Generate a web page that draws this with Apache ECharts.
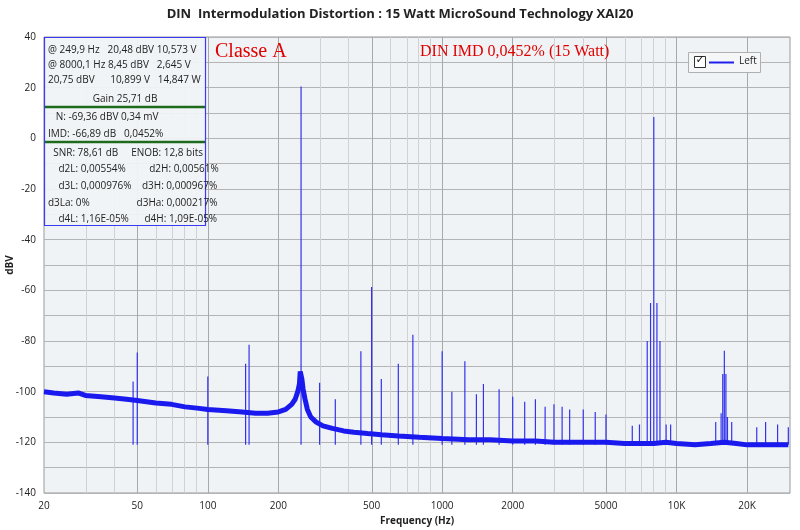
<!DOCTYPE html>
<html><head><meta charset="utf-8">
<script src="https://cdn.jsdelivr.net/npm/echarts@6/dist/echarts.min.js"></script>
<style>html,body{margin:0;padding:0;background:#fff}#c{width:800px;height:530px}</style>
</head><body><div id="c"></div>
<script>
// noise floor readings [Hz, dBV]
const floorF = [20,22,25,28,30,35,40,45,50,60,70,80,90,100,120,140,160,180,200,215,228,236,242,246,248,252,255,260,266,275,290,310,340,380,420,480,550,650,800,1000,1300,1600,2000,2500,3000,4000,5000,6000,7000,8000,9000,10000,12000,14000,16000,18000,20000,23000,26000,30000];
const floorV = [-100,-100.5,-101,-100.5,-101.5,-102,-102.5,-103,-103.5,-104.5,-105,-106,-106.5,-107,-107.5,-108,-108.5,-108.5,-108,-107,-105,-103,-100,-97,-92,-95,-99,-103,-107,-110,-112,-113.5,-114.5,-115.5,-116,-116.5,-117,-117.5,-118,-118.5,-119,-119,-119.5,-119.5,-120,-120,-120,-120.5,-120.5,-120.5,-120,-120.5,-121,-120.5,-120,-120.5,-121,-121,-121,-121];
// spectral lines [Hz, peak dBV]
const spikeF = [48,50,100,145,150,250,300,350,450,500,550,650,750,1000,1100,1250,1400,1500,1750,2000,2250,2500,2750,3000,3250,3500,4000,4500,5000,6475,6950,7500,7750,8000,8250,8500,9030,9440,14700,15500,15750,16000,16250,16500,17200,22000,24000,27000,30000];
const spikeV = [-96,-84.5,-94,-89,-81.5,20.48,-96.5,-103,-84,-58.7,-95,-89,-77.5,-84,-100,-88,-101,-97,-99,-102,-104,-103,-106,-105,-106,-107,-107,-108,-109,-113.5,-113,-80,-65,8.45,-65,-80,-113,-113,-112,-108.5,-93,-83.8,-93,-110,-112,-114,-112,-113,-114];
const majorTicks = [50,100,200,500,1000,2000,5000,10000,20000];
const minorTicks = [30,40,60,70,80,90,300,400,600,700,800,900,3000,4000,6000,7000,8000,9000];
const tickLabels = ['20','50','100','200','500','1000','2000','5000','10K','20K'];
const tickValues = [20,50,100,200,500,1000,2000,5000,10000,20000];
const infoRows = [
 ['@ 249,9 Hz   20,48 dBV 10,573 V', 50],
 ['@ 8000,1 Hz 8,45 dBV   2,645 V', 65],
 ['20,75 dBV      10,899 V   14,847 W', 80],
 ['Gain 25,71 dB', 99, 'c'],
 ['   N: -69,36 dBV 0,34 mV', 117],
 ['IMD: -66,89 dB   0,0452%', 134],
 ['  SNR: 78,61 dB     ENOB: 12,8 bits', 153],
 ['    d2L: 0,00554%         d2H: 0,00561%', 169],
 ['    d3L: 0,000976%    d3H: 0,000967%', 186],
 ['d3La: 0%                  d3Ha: 0,000217%', 203],
 ['    d4L: 1,16E-05%      d4H: 1,09E-05%', 219]
];
const L = Math.log10;
const floorData = floorF.map((f,i)=>[L(f),floorV[i]]);
const spikeData = [];
spikeF.forEach((f,i)=>{spikeData.push([L(f),-121]);spikeData.push([L(f),spikeV[i]]);spikeData.push(null);});
const gridLines = majorTicks.map(f=>({xAxis:L(f),lineStyle:{color:'#a8a8a8',width:1,type:'solid'}}))
 .concat(minorTicks.map(f=>({xAxis:L(f),lineStyle:{color:'#cfd2d5',width:1,type:'solid'}})));
const chart = echarts.init(document.getElementById('c'));
const FF = 'Open Sans, Noto Sans, sans-serif';
const gfx = [
 {type:'rect',shape:{x:44.5,y:37.5,width:161,height:188},style:{fill:'rgba(240,243,245,0.95)',stroke:'#3a3af0',lineWidth:1.2},z:100},
 {type:'line',shape:{x1:45,y1:107,x2:205,y2:107},style:{stroke:'#1e6b1e',lineWidth:2.5},z:101},
 {type:'line',shape:{x1:45,y1:142,x2:205,y2:142},style:{stroke:'#1e6b1e',lineWidth:2.5},z:101},
 {type:'text',left:'center',top:8,style:{text:'DIN  Intermodulation Distortion : 15 Watt MicroSound Technology XAI20',font:'bold 13px '+FF,fill:'#222'},z:101},
 {type:'text',x:215,y:42,style:{text:'Classe A',font:'20px Liberation Serif, serif',fill:'#e00000'},z:101},
 {type:'text',x:420,y:44,style:{text:'DIN IMD 0,0452% (15 Watt)',font:'16px Liberation Serif, serif',fill:'#e00000'},z:101},
 {type:'rect',shape:{x:688.5,y:52.5,width:72,height:20},style:{fill:'#f4f6f8',stroke:'#b0b0b0',lineWidth:1},z:101},
 {type:'rect',shape:{x:694.5,y:56.5,width:11,height:11},style:{fill:'#fff',stroke:'#333',lineWidth:1},z:102},
 {type:'text',x:695.5,y:55,style:{text:'✓',font:'bold 11px DejaVu Sans',fill:'#111'},z:103},
 {type:'line',shape:{x1:709,y1:62.5,x2:734,y2:62.5},style:{stroke:'#2020ee',lineWidth:2},z:102},
 {type:'text',x:739,y:56,style:{text:'Left',font:'10px '+FF,fill:'#222'},z:102},
 {type:'text',x:10,y:265,rotation:Math.PI/2,style:{text:'dBV',font:'bold 10px '+FF,fill:'#222',align:'center',verticalAlign:'middle'},z:102}
];
infoRows.forEach(r=>{
 gfx.push(r[2]==='c'?{type:'text',x:125,y:r[1],style:{text:r[0],font:'10px '+FF,fill:'#222',align:'center',verticalAlign:'middle'},z:102}
 :{type:'text',x:48,y:r[1],style:{text:r[0],font:'10px '+FF,fill:'#222',verticalAlign:'middle'},z:102});
});
chart.setOption({
 animation:false,
 backgroundColor:'#fff',
 grid:{left:44,right:10,top:37,bottom:37,outerBoundsMode:'none',containLabel:false,show:true,backgroundColor:'#f0f3f5',borderColor:'#999',borderWidth:1},
 xAxis:{type:'value',min:L(20),max:L(30500),name:'Frequency (Hz)',nameLocation:'middle',nameGap:22,
  nameTextStyle:{fontWeight:'bold',fontSize:10,color:'#222',fontFamily:FF},
  axisLine:{show:false},axisTick:{show:false},splitLine:{show:false},
  axisLabel:{customValues:tickValues.map(L),formatter:(v)=>{const i=tickValues.findIndex(t=>Math.abs(L(t)-v)<1e-6);return i>=0?tickLabels[i]:'';},fontSize:10,color:'#222',fontFamily:FF,margin:8}},
 yAxis:{type:'value',min:-140,max:40,interval:10,
  axisLine:{show:false},axisTick:{show:false},
  axisLabel:{formatter:v=>(v%20===0?String(v):''),fontSize:10,color:'#222',fontFamily:FF,margin:8},
  splitLine:{lineStyle:{color:'#b4b4b4'}}},
 graphic:gfx,
 series:[
  {type:'line',data:[],z:1,zlevel:0,markLine:{silent:true,symbol:'none',label:{show:false},data:gridLines,z:1}},
  {type:'line',data:spikeData,showSymbol:false,connectNulls:false,lineStyle:{color:'#3333ee',width:1.2},z:5},
  {type:'line',data:floorData,showSymbol:false,lineStyle:{color:'#1a1aee',width:5},z:6}
 ]
});
</script></body></html>
